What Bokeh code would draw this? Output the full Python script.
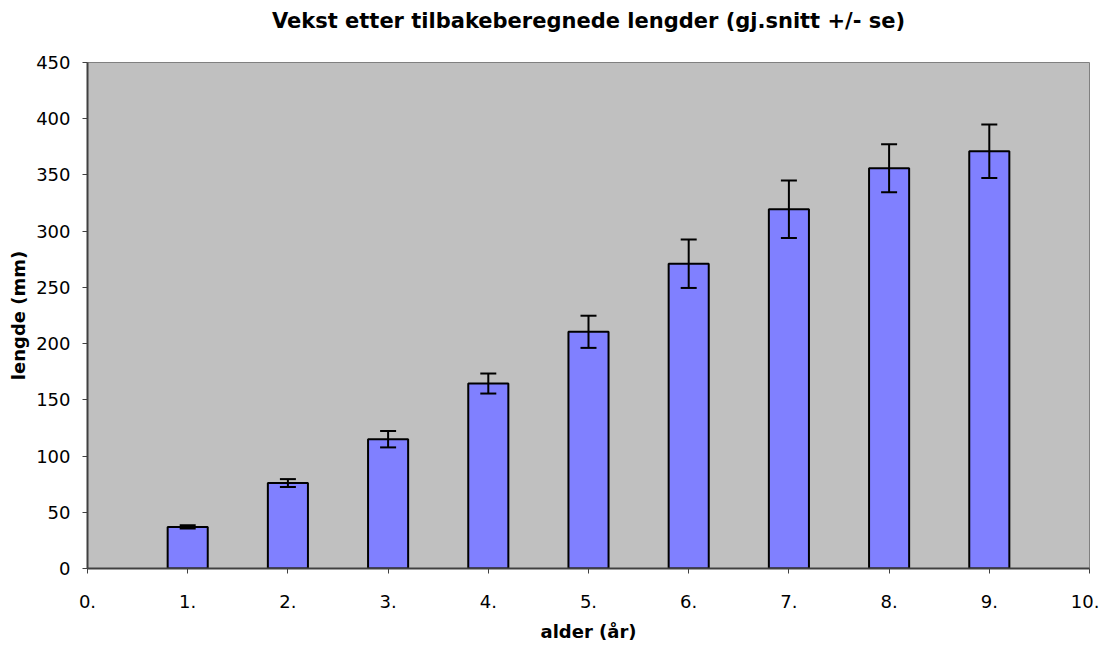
from bokeh.plotting import figure
from bokeh.models import ColumnDataSource, Whisker, TeeHead, FixedTicker, Range1d
from bokeh.embed import file_html
from bokeh.resources import INLINE

# ---- data ----
ages = [1, 2, 3, 4, 5, 6, 7, 8, 9]
mean_len = [37, 76, 115, 164.5, 210.5, 271, 319.5, 356, 371]
se_len = [1.5, 3.5, 7.3, 8.9, 14.3, 21.5, 25.5, 21.3, 23.8]
x_ticks = [0, 1, 2, 3, 4, 5, 6, 7, 8, 9, 10]
x_tick_labels = ["0.", "1.", "2.", "3.", "4.", "5.", "6.", "7.", "8.", "9.", "10."]
y_ticks = [0, 50, 100, 150, 200, 250, 300, 350, 400, 450]

title_text = "Vekst etter tilbakeberegnede lengder (gj.snitt +/- se)"
x_label = "alder (år)"
y_label = "lengde (mm)"

FONT = "DejaVu Sans"

src = ColumnDataSource(dict(
    x=ages,
    top=mean_len,
    upper=[m + s for m, s in zip(mean_len, se_len)],
    lower=[m - s for m, s in zip(mean_len, se_len)],
))

p = figure(width=1099, height=644, output_backend="svg", toolbar_location=None,
           x_range=Range1d(0, 10), y_range=Range1d(0, 450),
           min_border_left=87, min_border_right=10, min_border_top=62, min_border_bottom=74)

p.border_fill_color = "white"
p.background_fill_color = "#C0C0C0"
p.outline_line_color = "#808080"
p.outline_line_width = 1

p.vbar(x="x", top="top", width=0.4, bottom=0, source=src,
       fill_color="#8080FF", line_color="black", line_width=2)

wh = Whisker(source=src, base="x", upper="upper", lower="lower",
             line_color="black", line_width=2, level="overlay",
             upper_head=TeeHead(size=16, line_color="black", line_width=2),
             lower_head=TeeHead(size=16, line_color="black", line_width=2))
p.add_layout(wh)

# title (trailing empty line lifts the text higher above the frame)
p.title.text = title_text + "\n"
p.title.text_font = FONT
p.title.text_font_size = "21px"
p.title.text_font_style = "bold"
p.title.align = "center"
p.title.text_color = "black"
p.title.standoff = 12

p.xgrid.grid_line_color = None
p.ygrid.grid_line_color = None

for ax in (p.xaxis[0], p.yaxis[0]):
    ax.axis_line_color = "#404040"
    ax.axis_line_width = 2
    ax.major_tick_line_color = "#404040"
    ax.major_tick_line_width = 1
    ax.major_tick_in = 0
    ax.major_tick_out = 5
    ax.minor_tick_line_color = None
    ax.major_label_text_font = FONT
    ax.major_label_text_font_size = "18px"
    ax.major_label_text_color = "black"
    ax.axis_label_text_font = FONT
    ax.axis_label_text_font_size = "18px"
    ax.axis_label_text_font_style = "bold"
    ax.axis_label_text_color = "black"

p.xaxis.ticker = FixedTicker(ticks=x_ticks)
p.xaxis.major_label_overrides = {t: lab for t, lab in zip(x_ticks, x_tick_labels)}
p.xaxis.major_label_standoff = 21
p.xaxis.axis_label = x_label
p.xaxis.axis_label_standoff = 10

p.yaxis.ticker = FixedTicker(ticks=y_ticks)
p.yaxis.major_label_standoff = 12
p.yaxis.axis_label = y_label
p.yaxis.axis_label_standoff = 4

open("out.html", "w").write(file_html(p, INLINE))
